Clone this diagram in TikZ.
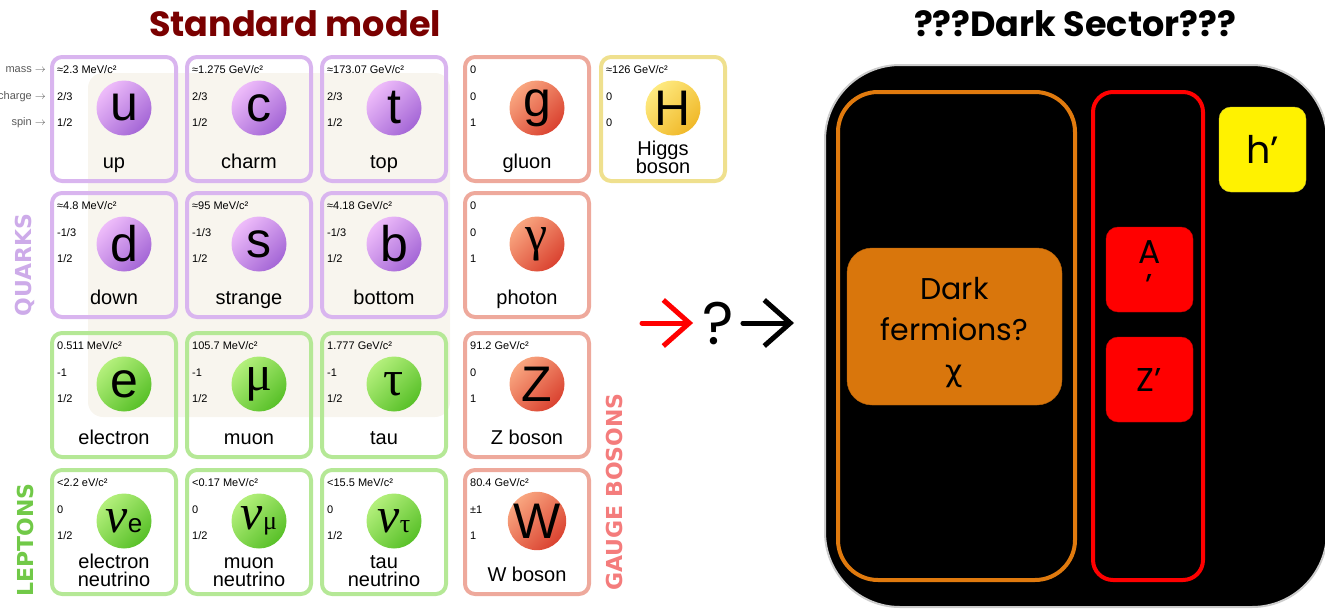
\documentclass[tikz,border=0pt]{standalone}
\usepackage{fontspec}
\setmainfont{Liberation Sans}
\newfontfamily\gothic{Poppins}
\newfontfamily\labelfont{DejaVu Sans}
\newfontfamily\greek{Liberation Serif}
\usetikzlibrary{arrows.meta,calc}
\definecolor{quarkedge}{HTML}{D9B5EF}
\definecolor{quarktop}{HTML}{EEBCFA}
\definecolor{quarkbot}{HTML}{A466D6}
\definecolor{leptonedge}{HTML}{B5E896}
\definecolor{leptontop}{HTML}{B4F07C}
\definecolor{leptonbot}{HTML}{58C028}
\definecolor{bosonedge}{HTML}{EEA99C}
\definecolor{bosontop}{HTML}{F9A680}
\definecolor{bosonbot}{HTML}{DA4230}
\definecolor{higgsedge}{HTML}{EFE08E}
\definecolor{higgstop}{HTML}{FEEA80}
\definecolor{higgsbot}{HTML}{F0B828}
\definecolor{bgbeige}{HTML}{F8F5EE}
\definecolor{smred}{HTML}{7A0000}
\definecolor{gaugetext}{HTML}{F47C7C}
\definecolor{fermorange}{HTML}{D9760C}
\definecolor{fermedge}{HTML}{E07A0E}
\newcommand{\nusym}[1]{{\greek\itshape ν}{\fontsize{26}{26}\selectfont #1}}
\newcommand{\twoline}[2]{\raisebox{-5pt}{\vbox{\lineskiplimit=-20pt\baselineskip=18pt
  \hbox to 90pt{\hss#1\hss}\hbox to 90pt{\hss#2\hss}}}}
\newcommand{\particle}[9]{%
  \node[cellbox,draw=#4edge] (#1) at (#2,#3) {};
  \node[ballnode=#4] (#1ball) at ($(#1)+(10,-11)$) {#5};
  \node[propval] (#1mass) at ($(#1)+(-57,-49)$) {#6};
  \node[propval] (#1charge) at ($(#1)+(-57,-22)$) {#7};
  \node[propval] (#1spin) at ($(#1)+(-57,4)$) {#8};
  \node[pname] (#1name) at ($(#1)+(0,49)$) {#9};
}

\begin{document}
\begin{tikzpicture}
[line cap=round,line join=round,x=1pt,y=-1pt,
 cellbox/.style={rectangle,rounded corners=10pt,line width=4pt,minimum width=124pt,minimum height=124pt},
 ballnode/.style={circle,inner sep=0pt,minimum size=55pt,top color=#1top,bottom color=#1bot,shading angle=45,font=\fontsize{50}{50}\selectfont},
 propval/.style={anchor=west,inner sep=0pt,font=\fontsize{11}{13}\selectfont},
 pname/.style={anchor=base,inner sep=0pt,font=\fontsize{20}{18}\selectfont},
 axislabel/.style={anchor=east,inner sep=0pt,text=black!65,font=\fontsize{11}{13}\selectfont},
 grouplabel/.style={rotate=90,inner sep=0pt,font=\labelfont\bfseries\fontsize{22}{22}\selectfont},
 titletext/.style={inner sep=0pt,font=\gothic\bfseries\fontsize{35}{35}\selectfont},
 groupbox/.style={rectangle,line width=4pt,minimum height=488pt},
 darkparticle/.style={rectangle,rounded corners=12pt,minimum width=87pt,minimum height=85pt,align=center,font=\gothic\fontsize{33}{34}\selectfont},
 bigarrow/.style={line width=5pt,-{Straight Barb[length=26pt,width=46pt]}}]
\useasboundingbox (0,0) rectangle (1325,608);
\fill[bgbeige,rounded corners=15pt] (88,73) rectangle (450,417);
\node[titletext,text=smred] (smtitle) at (295,24) {Standard model};
\node[titletext] (dstitle) at (1075,24) {???Dark Sector???};
\node[axislabel] (masslbl) at (46,70) {mass $\to$};
\node[axislabel] (chargelbl) at (46,97) {charge $\to$};
\node[axislabel] (spinlbl) at (46,123) {spin $\to$};
\particle{up}{114}{119}{quark}{u}{≈2.3 MeV/c²}{2/3}{1/2}{up}
\particle{charm}{249}{119}{quark}{c}{≈1.275 GeV/c²}{2/3}{1/2}{charm}
\particle{top}{384}{119}{quark}{t}{≈173.07 GeV/c²}{2/3}{1/2}{top}
\particle{gluon}{527}{119}{boson}{g}{0}{0}{1}{gluon}
\particle{higgs}{663}{119}{higgs}{H}{≈126 GeV/c²}{0}{0}{\twoline{Higgs}{boson}}
\particle{down}{114}{255}{quark}{d}{≈4.8 MeV/c²}{-1/3}{1/2}{down}
\particle{strange}{249}{255}{quark}{s}{≈95 MeV/c²}{-1/3}{1/2}{strange}
\particle{bottom}{384}{255}{quark}{b}{≈4.18 GeV/c²}{-1/3}{1/2}{bottom}
\particle{photon}{527}{255}{boson}{{\greek γ}}{0}{0}{1}{photon}
\particle{electron}{114}{395}{lepton}{e}{0.511 MeV/c²}{-1}{1/2}{electron}
\particle{muon}{249}{395}{lepton}{{\greek μ}}{105.7 MeV/c²}{-1}{1/2}{muon}
\particle{tau}{384}{395}{lepton}{{\greek τ}}{1.777 GeV/c²}{-1}{1/2}{tau}
\particle{zboson}{527}{395}{boson}{Z}{91.2 GeV/c²}{0}{1}{Z boson}
\particle{enu}{114}{532}{lepton}{\nusym{e}}{<2.2 eV/c²}{0}{1/2}{\twoline{electron}{neutrino}}
\particle{munu}{249}{532}{lepton}{\nusym{{\greek μ}}}{<0.17 MeV/c²}{0}{1/2}{\twoline{muon}{neutrino}}
\particle{taunu}{384}{532}{lepton}{\nusym{{\greek τ}}}{<15.5 MeV/c²}{0}{1/2}{\twoline{tau}{neutrino}}
\particle{wboson}{527}{532}{boson}{W}{80.4 GeV/c²}{±1}{1}{W boson}
\node[grouplabel,text=quarkbot!55] (quarks) at (25,265) {QUARKS};
\node[grouplabel,text=leptonbot!85!white] (leptons) at (25,540) {LEPTONS};
\node[grouplabel,text=gaugetext] (gauge) at (614,492) {GAUGE BOSONS};
\coordinate (smout) at (642,323);
\node[inner sep=0pt,font=\gothic\fontsize{60}{60}\selectfont] (query) at (718,323) {?};
\coordinate (dsin) at (794,323);
\draw[bigarrow,red,shorten >=9pt] (smout) -- (query.west);
\draw[bigarrow,shorten <=9pt] (query.east) -- (dsin);
\node[fill=black,draw=black!20,line width=2pt,rounded corners=75pt,minimum width=502pt,minimum height=542pt] (dark) at (1076,336) {};
\node[groupbox,draw=fermedge,rounded corners=40pt,minimum width=237pt] (fermgroup) at (956.5,336) {};
\node[fill=fermorange,draw=fermorange!85!black,rounded corners=25pt,minimum width=215pt,minimum height=157pt,
  label={[align=center,yshift=-6pt,font=\gothic\fontsize{30}{41}\selectfont]center:Dark\\fermions?\\{\labelfont χ}}] (fermions) at (954.5,326.5) {};
\node[groupbox,draw=red,rounded corners=20pt,minimum width=110pt] (bosongroup) at (1148,336) {};
\node[darkparticle,fill=red,draw=red!80!black] (aprime) at (1149.5,269.5) {A\\’};
\node[darkparticle,fill=red,draw=red!80!black] (zprime) at (1149.5,379.5) {Z’};
\node[darkparticle,fill=yellow,draw=yellow!80!black,font=\gothic\fontsize{38}{38}\selectfont] (hprime) at (1262.5,149.5) {h’};
\end{tikzpicture}
\end{document}
